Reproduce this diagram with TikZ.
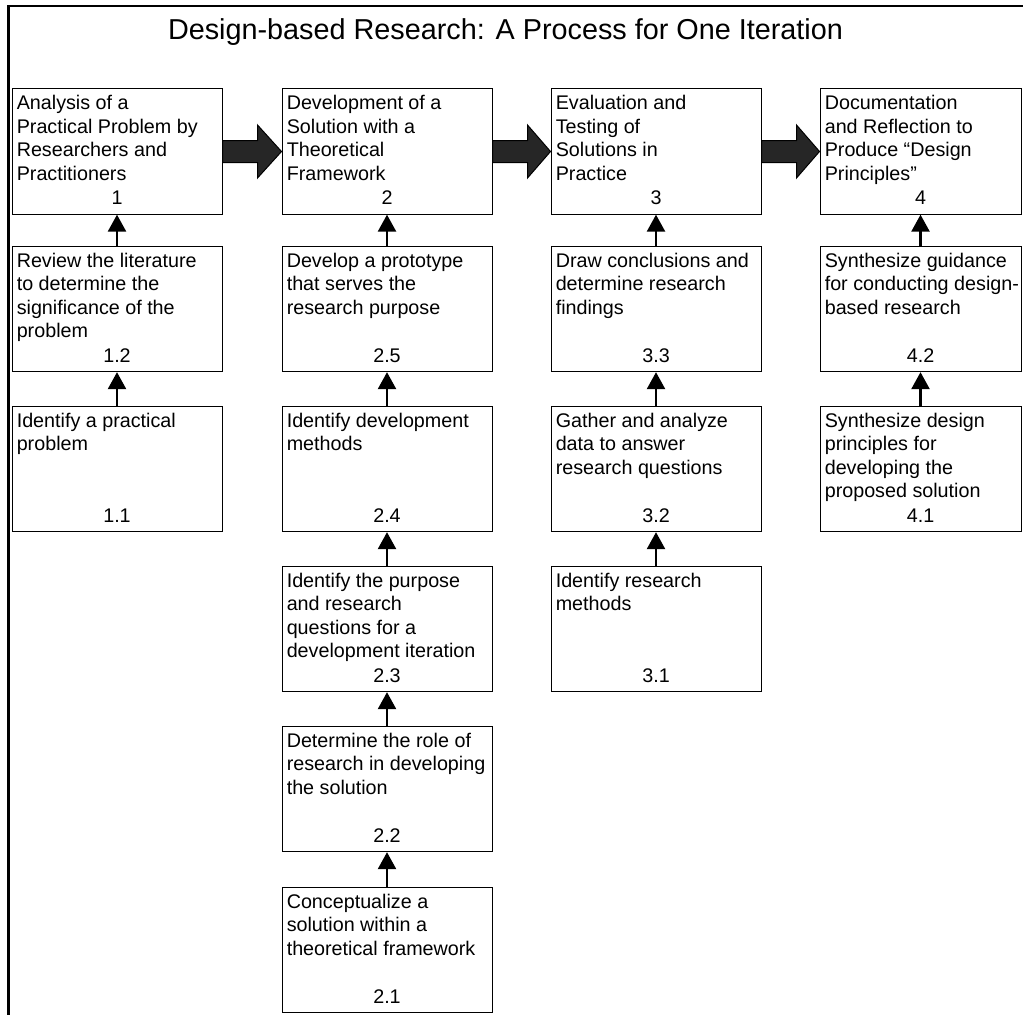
\documentclass[tikz,border=0pt]{standalone}
\usepackage{fontspec}
\setmainfont{Liberation Sans}
\usetikzlibrary{calc,arrows.meta}

\begin{document}
\begin{tikzpicture}[x=0.75pt,y=0.75pt,yscale=-1,xscale=1,
  stepbox/.style={draw, line width=0.75pt, minimum width=157.5pt, minimum height=94pt, inner sep=0pt},
  narrowbox/.style={stepbox, minimum width=150.75pt},
  txt/.style={anchor=north west, align=left, inner sep=0pt, font=\fontsize{14.8}{17.6}\selectfont},
  num/.style={anchor=base, inner sep=0pt, font=\fontsize{14.8}{17.6}\selectfont},
  uparrow/.style={line width=1.9pt, -{Triangle[length=12.75pt,width=13.5pt]}},
  bigarrow/.style={draw=black, fill=black!85, line width=0.75pt},
  frame/.style={line width=1.8pt}]

\useasboundingbox (0,0) rectangle (1023,1015);

\draw[frame] (1023,6) -- (8.5,6) -- (8.5,1015);

\node[anchor=base, inner sep=0pt, font=\fontsize{21.6}{26}\selectfont] (title) at (505.5,39) {Design-based Research: A Process for One Iteration};

% column 1
\node[stepbox] (s1) at (117,151.5) {};
\node[stepbox] (s12) at (117,309) {};
\node[stepbox] (s11) at (117,469) {};

% column 2
\node[stepbox] (s2) at (387,151.5) {};
\node[stepbox] (s25) at (387,309) {};
\node[stepbox] (s24) at (387,469) {};
\node[stepbox] (s23) at (387,629) {};
\node[stepbox] (s22) at (387,789) {};
\node[stepbox] (s21) at (387,950) {};

% column 3
\node[stepbox] (s3) at (656,151.5) {};
\node[stepbox] (s33) at (656,309) {};
\node[stepbox] (s32) at (656,469) {};
\node[stepbox] (s31) at (656,629) {};

% column 4
\node[narrowbox] (s4) at (920.5,151.5) {};
\node[narrowbox] (s42) at (920.5,309) {};
\node[narrowbox] (s41) at (920.5,469) {};

% texts
\node[txt] (t1) at ($(s1.north west)+(5,7)$) {Analysis of a\\Practical Problem by\\Researchers and\\Practitioners};
\node[txt] (t12) at ($(s12.north west)+(5,7)$) {Review the literature\\to determine the\\significance of the\\problem};
\node[txt] (t11) at ($(s11.north west)+(5,7)$) {Identify a practical\\problem};

\node[txt] (t2) at ($(s2.north west)+(5,7)$) {Development of a\\Solution with a\\Theoretical\\Framework};
\node[txt] (t25) at ($(s25.north west)+(5,7)$) {Develop a prototype\\that serves the\\research purpose};
\node[txt] (t24) at ($(s24.north west)+(5,7)$) {Identify development\\methods};
\node[txt] (t23) at ($(s23.north west)+(5,7)$) {Identify the purpose\\and research\\questions for a\\development iteration};
\node[txt] (t22) at ($(s22.north west)+(5,7)$) {Determine the role of\\research in developing\\the solution};
\node[txt] (t21) at ($(s21.north west)+(5,7)$) {Conceptualize a\\solution within a\\theoretical framework};

\node[txt] (t3) at ($(s3.north west)+(5,7)$) {Evaluation and\\Testing of\\Solutions in\\Practice};
\node[txt] (t33) at ($(s33.north west)+(5,7)$) {Draw conclusions and\\determine research\\findings};
\node[txt] (t32) at ($(s32.north west)+(5,7)$) {Gather and analyze\\data to answer\\research questions};
\node[txt] (t31) at ($(s31.north west)+(5,7)$) {Identify research\\methods};

\node[txt] (t4) at ($(s4.north west)+(5,7)$) {Documentation\\and Reflection to\\Produce “Design\\Principles”};
\node[txt] (t42) at ($(s42.north west)+(5,7)$) {Synthesize guidance\\for conducting design-\\based research};
\node[txt] (t41) at ($(s41.north west)+(5,7)$) {Synthesize design\\principles for\\developing the\\proposed solution};

% numbers
\node[num] (n1) at ($(s1.south)+(0,-10)$) {1};
\node[num] (n12) at ($(s12.south)+(0,-10)$) {1.2};
\node[num] (n11) at ($(s11.south)+(0,-10)$) {1.1};
\node[num] (n2) at ($(s2.south)+(0,-10)$) {2};
\node[num] (n25) at ($(s25.south)+(0,-10)$) {2.5};
\node[num] (n24) at ($(s24.south)+(0,-10)$) {2.4};
\node[num] (n23) at ($(s23.south)+(0,-10)$) {2.3};
\node[num] (n22) at ($(s22.south)+(0,-10)$) {2.2};
\node[num] (n21) at ($(s21.south)+(0,-10)$) {2.1};
\node[num] (n3) at ($(s3.south)+(0,-10)$) {3};
\node[num] (n33) at ($(s33.south)+(0,-10)$) {3.3};
\node[num] (n32) at ($(s32.south)+(0,-10)$) {3.2};
\node[num] (n31) at ($(s31.south)+(0,-10)$) {3.1};
\node[num] (n4) at ($(s4.south)+(0,-10)$) {4};
\node[num] (n42) at ($(s42.south)+(0,-10)$) {4.2};
\node[num] (n41) at ($(s41.south)+(0,-10)$) {4.1};

% upward arrows
\draw[uparrow] (s11.north) -- (s12.south);
\draw[uparrow] (s12.north) -- (s1.south);
\draw[uparrow] (s21.north) -- (s22.south);
\draw[uparrow] (s22.north) -- (s23.south);
\draw[uparrow] (s23.north) -- (s24.south);
\draw[uparrow] (s24.north) -- (s25.south);
\draw[uparrow] (s25.north) -- (s2.south);
\draw[uparrow] (s31.north) -- (s32.south);
\draw[uparrow] (s32.north) -- (s33.south);
\draw[uparrow] (s33.north) -- (s3.south);
\draw[uparrow] (s41.north) -- (s42.south);
\draw[uparrow] (s42.north) -- (s4.south);

% block arrows
\draw[bigarrow] ($(s1.east)+(0,-11)$) -- ++(35,0) -- ++(0,-15.5) -- (s2.west) -- ($(s1.east)+(35,26.5)$) -- ++(0,-15.5) -- ($(s1.east)+(0,11)$) -- cycle;
\draw[bigarrow] ($(s2.east)+(0,-11)$) -- ++(35,0) -- ++(0,-15.5) -- (s3.west) -- ($(s2.east)+(35,26.5)$) -- ++(0,-15.5) -- ($(s2.east)+(0,11)$) -- cycle;
\draw[bigarrow] ($(s3.east)+(0,-11)$) -- ++(35,0) -- ++(0,-15.5) -- (s4.west) -- ($(s3.east)+(35,26.5)$) -- ++(0,-15.5) -- ($(s3.east)+(0,11)$) -- cycle;

\end{tikzpicture}
\end{document}
